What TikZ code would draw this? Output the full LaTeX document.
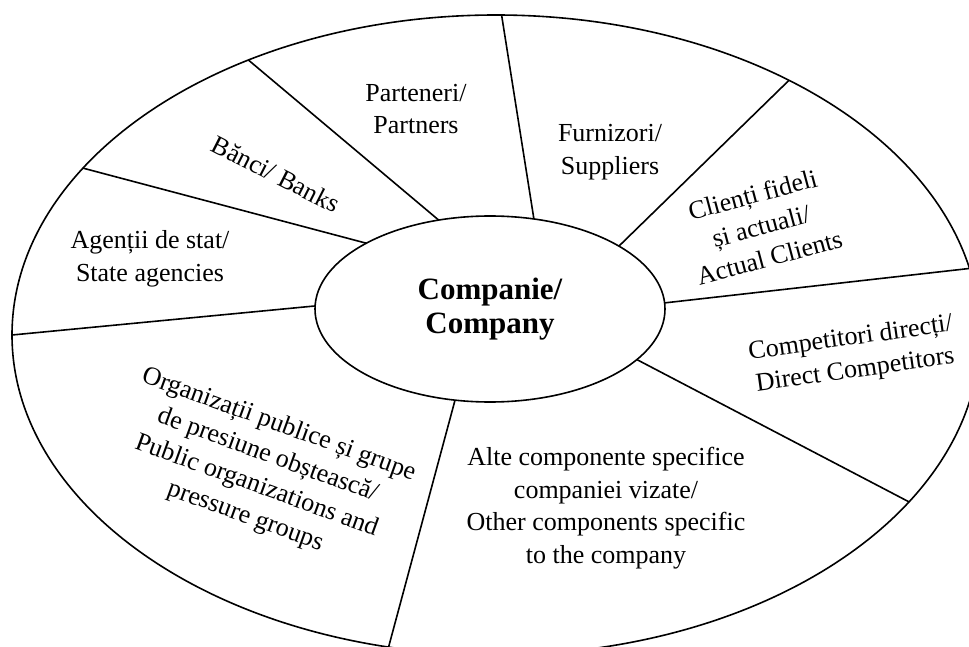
\documentclass[tikz,border=0pt]{standalone}
\usepackage{fontspec}
\setmainfont{Liberation Serif}
\usetikzlibrary{shapes.geometric}
\begin{document}
\begin{tikzpicture}[x=1pt,y=-1pt,
  ring/.style={ellipse, draw, line width=1.6pt, inner sep=0pt, outer sep=0pt},
  lbl/.style={align=center, font=\fontsize{26}{32.5}\selectfont, inner sep=0pt},
  sepline/.style={line width=1.6pt}]
\useasboundingbox (0,0) rectangle (969,647);
\node[ring, minimum width=968pt, minimum height=640pt] (outer) at (496,335) {};
\node[ring, minimum width=350pt, minimum height=186pt, align=center,
      font=\bfseries\fontsize{31}{34}\selectfont] (inner) at (490,309) {Companie/\\Company};
\draw[sepline] (inner.152) -- (outer.158.8);
\draw[sepline] (inner.120.8) -- (outer.132.6);
\draw[sepline] (inner.64.2) -- (outer.89.8);
\draw[sepline] (inner.26) -- (outer.41.1);
\draw[sepline] (inner.2.6) -- (outer.8.2);
\draw[sepline] (inner.-19.3) -- (outer.-22.6);
\draw[sepline] (inner.249.7) -- (outer.251.3);
\draw[sepline] (inner.179.7) -- (outer.180);
\node[lbl] (partners) at (416,109) {Parteneri/\\Partners};
\node[lbl] (suppliers) at (610,152) {Furnizori/\\Suppliers};
\node[lbl, rotate=15] (clients) at (761,226) {Clienți fideli\\și actuali/\\Actual Clients};
\node[lbl, rotate=8] (competitors) at (853,355) {Competitori direcți/\\Direct Competitors};
\node[lbl] (other) at (606,508) {Alte componente specifice\\companiei vizate/\\Other components specific\\to the company};
\node[lbl, rotate=-20] (public) at (262,471) {Organizații publice și grupe\\de presiune obștească/\\Public organizations and\\pressure groups};
\node[lbl] (agencies) at (150,259) {Agenții de stat/\\State agencies};
\node[lbl, rotate=-27] (banks) at (276,174) {Bănci/ Banks};
\end{tikzpicture}
\end{document}
